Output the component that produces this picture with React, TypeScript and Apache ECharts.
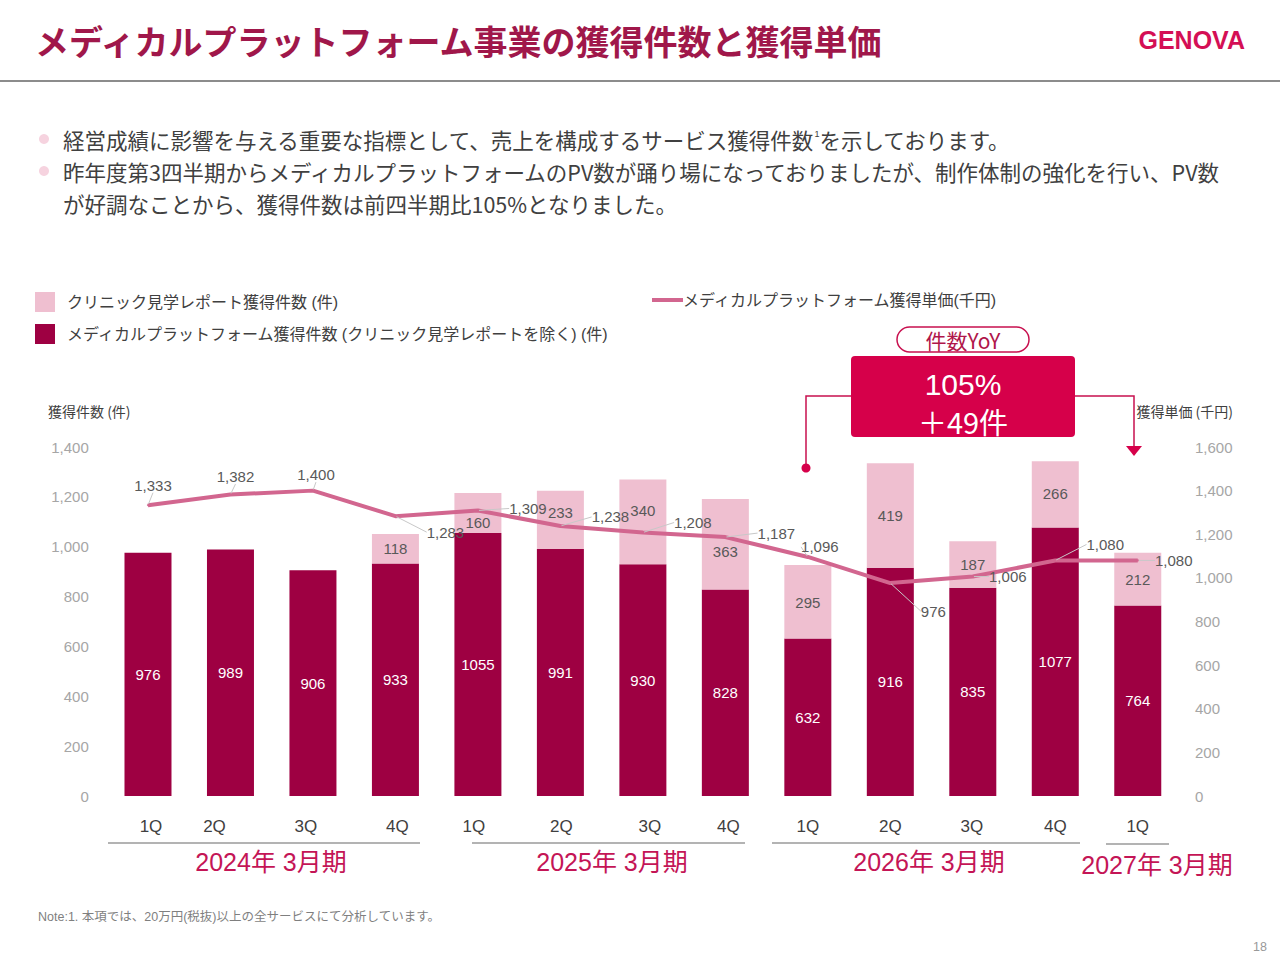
import React, { useEffect, useRef } from "react";
import * as echarts from "echarts";

const FONT = '"Liberation Sans", Arial, "Noto Sans CJK JP", sans-serif';

const categories = ["24-1Q", "24-2Q", "24-3Q", "24-4Q", "25-1Q", "25-2Q", "25-3Q", "25-4Q", "26-1Q", "26-2Q", "26-3Q", "26-4Q", "27-1Q"];
const quarterLabels = ["1Q", "2Q", "3Q", "4Q", "1Q", "2Q", "3Q", "4Q", "1Q", "2Q", "3Q", "4Q", "1Q"];
const platformCounts = [976, 989, 906, 933, 1055, 991, 930, 828, 632, 916, 835, 1077, 764];
const clinicCounts: (number | null)[] = [null, null, null, 118, 160, 233, 340, 363, 295, 419, 187, 266, 212];
const unitPrices = [1333, 1382, 1400, 1283, 1309, 1238, 1208, 1187, 1096, 976, 1006, 1080, 1080];
const fiscalPeriods = ["2024年 3月期", "2025年 3月期", "2026年 3月期", "2027年 3月期"];
const leftTicks = { min: 0, max: 1400, interval: 200 };
const rightTicks = { min: 0, max: 1600, interval: 200 };

const seriesNames = {
  clinic: "クリニック見学レポート獲得件数 (件)",
  platform: "メディカルプラットフォーム獲得件数 (クリニック見学レポートを除く) (件)",
  price: "メディカルプラットフォーム獲得単価(千円)",
};

// label offsets (presentation only)
const quarterShift = [3, -16, -7, 2, -4, 1, 7, 3, 0, 0, -1, 0, 0];
const clinicLabelDy = [0, 0, 0, 0, 9, -7, -11, 7, 1, 0, 0, -1, 0];
const priceLabelOffset: [number, number][] = [
  [5, -20], [5, -18], [3, -16], [50, 16], [50, -2], [50, -9], [50, -10],
  [51, -4], [12, -10], [43, 28], [35, 0], [50, -16], [36, 0],
];

const CRIMSON = "#C8104F";
const JP = '"Noto Sans CJK JP", sans-serif';

export default function App() {
  const ref = useRef<HTMLDivElement>(null);
  useEffect(() => {
    if (!ref.current) return;
    const chart = echarts.init(ref.current, undefined, { renderer: "svg" });
    const rich: Record<string, any> = {};
    quarterShift.forEach((s, i) => {
      rich["q" + i] = {
        fontSize: 17,
        color: "#404040",
        fontFamily: FONT,
        padding: s >= 0 ? [0, 0, 0, 2 * s] : [0, -2 * s, 0, 0],
      };
    });
    const option: any = {
      animation: false,
      backgroundColor: "#ffffff",
      textStyle: { fontFamily: FONT },
      legend: [
        {
          data: [seriesNames.clinic, seriesNames.platform],
          orient: "vertical",
          left: 35,
          top: 292,
          padding: 0,
          itemWidth: 20,
          itemHeight: 20,
          itemGap: 12,
          icon: "rect",
          textStyle: { fontSize: 16, color: "#404040", fontFamily: FONT, padding: [0, 0, 0, 7] },
        },
        {
          data: [seriesNames.price],
          left: 652,
          top: 292,
          padding: 0,
          itemWidth: 31,
          itemHeight: 4,
          itemGap: 0,
          icon: "rect",
          textStyle: { fontSize: 16, color: "#404040", fontFamily: FONT, padding: [0, 0, 0, -5] },
        },
      ],
      grid: { left: 106.75, right: 101, top: 447, bottom: 164 },
      xAxis: {
        type: "category",
        data: categories,
        axisLine: { show: false },
        axisTick: { show: false },
        axisLabel: {
          margin: 22,
          interval: 0,
          formatter: (_v: string, i: number) => `{q${i}|${quarterLabels[i]}}`,
          rich,
        },
      },
      yAxis: [
        {
          type: "value",
          ...leftTicks,
          splitLine: { show: false },
          axisLine: { show: false },
          axisTick: { show: false },
          axisLabel: {
            margin: 18,
            fontSize: 15,
            color: "#A6A6A6",
            formatter: (v: number) => v.toLocaleString("en-US"),
          },
        },
        {
          type: "value",
          ...rightTicks,
          splitLine: { show: false },
          axisLine: { show: false },
          axisTick: { show: false },
          axisLabel: {
            margin: 16,
            fontSize: 15,
            color: "#A6A6A6",
            formatter: (v: number) => v.toLocaleString("en-US"),
          },
        },
      ],
      series: [
        {
          name: seriesNames.platform,
          type: "bar",
          stack: "total",
          barWidth: 47,
          data: platformCounts,
          itemStyle: { color: "#9E0042" },
          label: {
            show: true,
            position: "inside",
            color: "#ffffff",
            fontSize: 15,
            fontFamily: FONT,
          },
        },
        {
          name: seriesNames.clinic,
          type: "bar",
          stack: "total",
          barWidth: 47,
          data: clinicCounts,
          itemStyle: { color: "#EFBFD0" },
          label: {
            show: true,
            position: "inside",
            color: "#595959",
            fontSize: 15,
            fontFamily: FONT,
            formatter: (p: any) => (p.value == null ? "" : String(p.value)),
          },
          labelLayout: (p: any) => ({ dy: clinicLabelDy[p.dataIndex] || 0 }),
        },
        {
          name: seriesNames.price,
          type: "line",
          yAxisIndex: 1,
          data: unitPrices,
          symbol: "circle",
          symbolSize: 2,
          z: 5,
          lineStyle: { color: "#D2668F", width: 4 },
          itemStyle: { color: "#D2668F" },
          label: {
            show: true,
            position: "inside",
            color: "#595959",
            fontSize: 15,
            fontFamily: FONT,
            formatter: (p: any) => Number(p.value).toLocaleString("en-US"),
          },
          labelLine: { show: true, lineStyle: { color: "#C8C8C8", width: 1 } },
          labelLayout: (p: any) => {
            const o = priceLabelOffset[p.dataIndex] || [0, -16];
            return { dx: o[0], dy: o[1] };
          },
        },
      ],
      graphic: [
        // title
        {
          type: "text",
          x: 35,
          y: 40,
          style: {
            text: "メディカルプラットフォーム事業の獲得件数と獲得単価",
            fill: "#A0174A",
            font: `bold 34px ${JP}`,
            textVerticalAlign: "middle",
          },
        },
        {
          type: "text",
          x: 1245,
          y: 40,
          style: {
            text: "GENOVA",
            fill: "#D40F55",
            font: 'bold 25px "Liberation Sans", Arial, sans-serif',
            textAlign: "right",
            textVerticalAlign: "middle",
          },
        },
        {
          type: "line",
          shape: { x1: 0, y1: 81, x2: 1280, y2: 81 },
          style: { stroke: "#8C8C8C", lineWidth: 2 },
        },
        // bullets
        { type: "circle", shape: { cx: 44, cy: 139, r: 5 }, style: { fill: "#F6D3DF" } },
        { type: "circle", shape: { cx: 44, cy: 171, r: 5 }, style: { fill: "#F6D3DF" } },
        {
          type: "text",
          x: 63,
          y: 139,
          style: {
            text: "{t|経営成績に影響を与える重要な指標として、売上を構成するサービス獲得件数}{s|1}{t|を示しております。}",
            textVerticalAlign: "middle",
            rich: {
              t: { fontSize: 21.5, fill: "#404040", fontFamily: JP },
              s: { fontSize: 9, fill: "#404040", fontFamily: FONT, padding: [0, 0, 10, 0] },
            },
          },
        },
        {
          type: "text",
          x: 63,
          y: 171,
          style: {
            text: "昨年度第3四半期からメディカルプラットフォームのPV数が踊り場になっておりましたが、制作体制の強化を行い、PV数",
            fill: "#404040",
            font: `21.5px ${JP}`,
            textVerticalAlign: "middle",
          },
        },
        {
          type: "text",
          x: 63,
          y: 203,
          style: {
            text: "が好調なことから、獲得件数は前四半期比105%となりました。",
            fill: "#404040",
            font: `21.5px ${JP}`,
            textVerticalAlign: "middle",
          },
        },
        // axis names
        {
          type: "text",
          x: 48,
          y: 411,
          style: {
            text: "獲得件数 (件)",
            fill: "#404040",
            font: `14px ${JP}`,
            textVerticalAlign: "middle",
          },
        },
        {
          type: "text",
          x: 1233,
          y: 411,
          style: {
            text: "獲得単価 (千円)",
            fill: "#404040",
            font: `14px ${JP}`,
            textAlign: "right",
            textVerticalAlign: "middle",
          },
        },
        // YoY annotation
        {
          type: "rect",
          shape: { x: 897, y: 327, width: 132, height: 25, r: 12.5 },
          style: { fill: "#ffffff", stroke: CRIMSON, lineWidth: 1.5 },
        },
        {
          type: "text",
          x: 963,
          y: 339.5,
          style: {
            text: "件数YoY",
            fill: "#B0164A",
            font: `21px ${JP}`,
            textAlign: "center",
            textVerticalAlign: "middle",
          },
        },
        {
          type: "polyline",
          shape: { points: [[851, 396], [806, 396], [806, 468]] },
          style: { stroke: CRIMSON, lineWidth: 1.5, fill: "none" },
        },
        { type: "circle", shape: { cx: 806, cy: 468, r: 4.5 }, style: { fill: "#D6004A" } },
        {
          type: "polyline",
          shape: { points: [[1075, 396], [1134, 396], [1134, 448]] },
          style: { stroke: CRIMSON, lineWidth: 1.5, fill: "none" },
        },
        {
          type: "polygon",
          shape: { points: [[1126, 446], [1142, 446], [1134, 456]] },
          style: { fill: "#D6004A" },
        },
        {
          type: "rect",
          shape: { x: 851, y: 356, width: 224, height: 81, r: 4 },
          style: { fill: "#D6004A" },
        },
        {
          type: "text",
          x: 963,
          y: 384,
          style: {
            text: "105%",
            fill: "#ffffff",
            font: '30px "Liberation Sans", Arial, sans-serif',
            textAlign: "center",
            textVerticalAlign: "middle",
          },
        },
        {
          type: "text",
          x: 963,
          y: 421,
          style: {
            text: "＋49件",
            fill: "#ffffff",
            font: `29px ${JP}`,
            textAlign: "center",
            textVerticalAlign: "middle",
          },
        },
        // fiscal period brackets
        { type: "line", shape: { x1: 108, y1: 843, x2: 420, y2: 843 }, style: { stroke: "#9A9A9A", lineWidth: 1.5 } },
        { type: "line", shape: { x1: 472, y1: 843, x2: 745, y2: 843 }, style: { stroke: "#9A9A9A", lineWidth: 1.5 } },
        { type: "line", shape: { x1: 772, y1: 843, x2: 1080, y2: 843 }, style: { stroke: "#9A9A9A", lineWidth: 1.5 } },
        { type: "line", shape: { x1: 1106, y1: 844, x2: 1169, y2: 844 }, style: { stroke: "#9A9A9A", lineWidth: 1.5 } },
        ...[271, 612, 929, 1157].map((cx, i) => ({
          type: "text",
          x: cx,
          y: i === 3 ? 865 : 862,
          style: {
            text: fiscalPeriods[i],
            fill: "#C41556",
            font: '25px "Liberation Sans", Arial, "Noto Sans CJK JP", sans-serif',
            textAlign: "center",
            textVerticalAlign: "middle",
          },
        })),
        // footnote
        {
          type: "text",
          x: 38,
          y: 917,
          style: {
            text: "Note:1. 本項では、20万円(税抜)以上の全サービスにて分析しています。",
            fill: "#7F7F7F",
            font: '12.5px "Liberation Sans", Arial, "Noto Sans CJK JP", sans-serif',
            textVerticalAlign: "middle",
          },
        },
        {
          type: "text",
          x: 1267,
          y: 947,
          style: {
            text: "18",
            fill: "#999999",
            font: '12.5px "Liberation Sans", Arial, sans-serif',
            textAlign: "right",
            textVerticalAlign: "middle",
          },
        },
      ],
    };
    chart.setOption(option);
    return () => chart.dispose();
  }, []);
  return (
    <div
      ref={ref}
      style={{ position: "fixed", left: 0, top: 0, width: 1280, height: 960, background: "#fff" }}
    />
  );
}
